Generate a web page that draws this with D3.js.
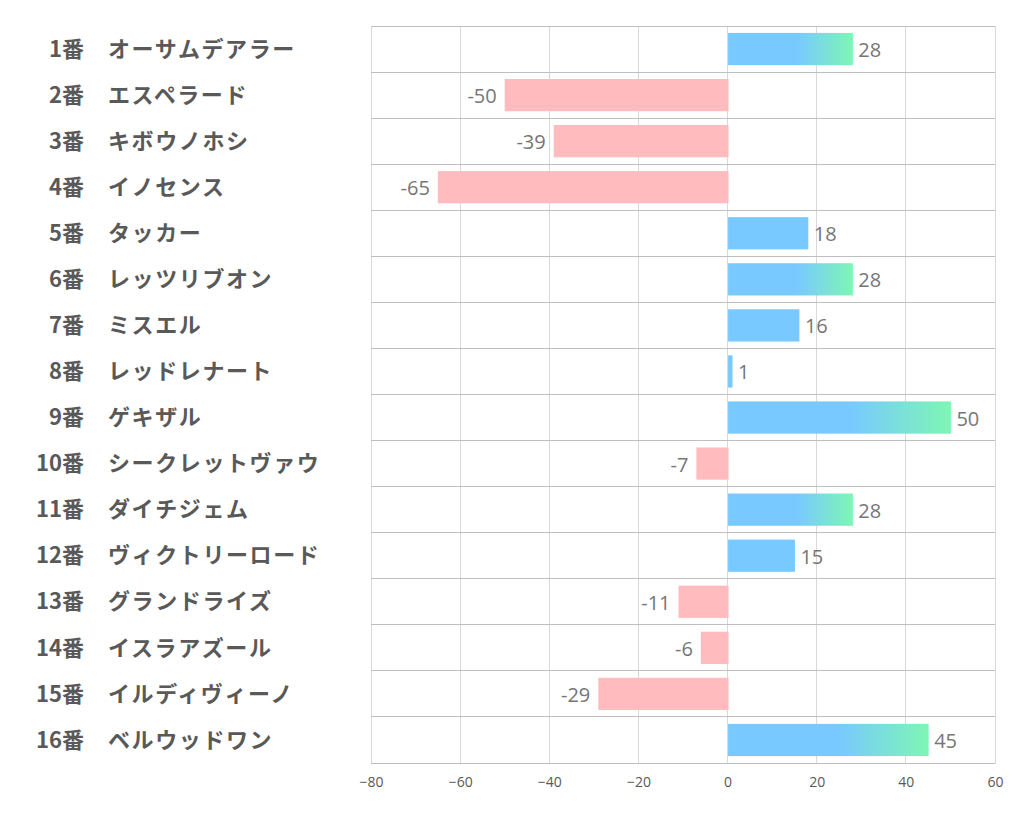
<!DOCTYPE html>
<html><head><meta charset="utf-8">
<script src="https://cdn.jsdelivr.net/npm/d3@7"></script>
<style>body{margin:0;background:#fff;}svg{display:block;}</style>
</head><body>
<script>
const numbers = ["1番","2番","3番","4番","5番","6番","7番","8番","9番","10番","11番","12番","13番","14番","15番","16番"];
const names = ["オーサムデアラー","エスペラード","キボウノホシ","イノセンス","タッカー","レッツリブオン","ミスエル","レッドレナート","ゲキザル","シークレットヴァウ","ダイチジェム","ヴィクトリーロード","グランドライズ","イスラアズール","イルディヴィーノ","ベルウッドワン"];
const values = [28,-50,-39,-65,18,28,16,1,50,-7,28,15,-11,-6,-29,45];
const xTicks = [-80,-60,-40,-20,0,20,40,60];

const W = 1022, H = 834;
const L = 371, R = 995, T = 26, B = 763;
const svg = d3.select("body").append("svg").attr("width", W).attr("height", H);
const defs = svg.append("defs");
const grad = defs.append("linearGradient").attr("id","g").attr("x1","0").attr("x2","1").attr("y1","0").attr("y2","0");
grad.append("stop").attr("offset","0.55").attr("stop-color","#78C9FF");
grad.append("stop").attr("offset","1").attr("stop-color","#7EF6B4");

const x = d3.scaleLinear().domain([-80,60]).range([L,R]);
const y = d3.scaleBand().domain(d3.range(values.length)).range([T,B]).paddingInner(0).paddingOuter(0);

// vertical grid
svg.append("g").selectAll("line").data(xTicks).join("line")
  .attr("x1", d=>x(d)).attr("x2", d=>x(d)).attr("y1", T).attr("y2", B)
  .attr("stroke", "#d9d9d9").attr("stroke-width", 1).attr("shape-rendering","crispEdges");
// horizontal grid
svg.append("g").selectAll("line").data(d3.range(values.length+1)).join("line")
  .attr("x1", L).attr("x2", R)
  .attr("y1", i=> i<values.length ? y(i) : B).attr("y2", i=> i<values.length ? y(i) : B)
  .attr("stroke", "#bfbfbf").attr("stroke-width", 1).attr("shape-rendering","crispEdges");

// bars
const bh = y.bandwidth()*0.7;
svg.append("g").selectAll("rect").data(values).join("rect")
  .attr("x", d=> d>=0 ? x(0)+0.5 : x(d))
  .attr("width", d=> Math.abs(x(d)-x(0)) + (d<0?1:0))
  .attr("y", (d,i)=> y(i)+(y.bandwidth()-bh)/2)
  .attr("height", bh)
  .attr("fill", d=> d<0 ? "#FFBBBE" : (d>=25 ? "url(#g)" : "#78C9FF"));

// value labels
svg.append("g").selectAll("text").data(values).join("text")
  .attr("x", d=> d>=0 ? x(d)+6 : x(d)-8)
  .attr("y", (d,i)=> y(i)+y.bandwidth()/2+1)
  .attr("dy","0.35em")
  .attr("text-anchor", d=> d>=0 ? "start" : "end")
  .attr("font-family","'Open Sans','Noto Sans',sans-serif")
  .attr("font-size", 20)
  .attr("fill","#767676")
  .text(d=>d);

// x axis
const axis = d3.axisBottom(x).tickValues(xTicks).tickSize(0).tickPadding(14);
const ax = svg.append("g").attr("transform",`translate(0,${B})`).call(axis);
ax.select(".domain").attr("stroke","#bfbfbf");
ax.selectAll("text").attr("font-family","'Open Sans','Noto Sans',sans-serif").attr("font-size",14).attr("fill","#595959");

// row labels
const lab = svg.append("g").attr("font-family","'Noto Sans CJK JP',sans-serif").attr("font-weight","bold").attr("font-size",22).attr("fill","#595959");
lab.selectAll("text.n").data(numbers).join("text").attr("class","n")
  .attr("x", 84).attr("y",(d,i)=>y(i)+y.bandwidth()/2).attr("dy","0.35em")
  .attr("text-anchor","end").text(d=>d);
lab.selectAll("text.m").data(names).join("text").attr("class","m")
  .attr("x", 108).attr("y",(d,i)=>y(i)+y.bandwidth()/2).attr("dy","0.35em")
  .attr("letter-spacing", 1.6)
  .text(d=>d);
</script>
</body></html>
